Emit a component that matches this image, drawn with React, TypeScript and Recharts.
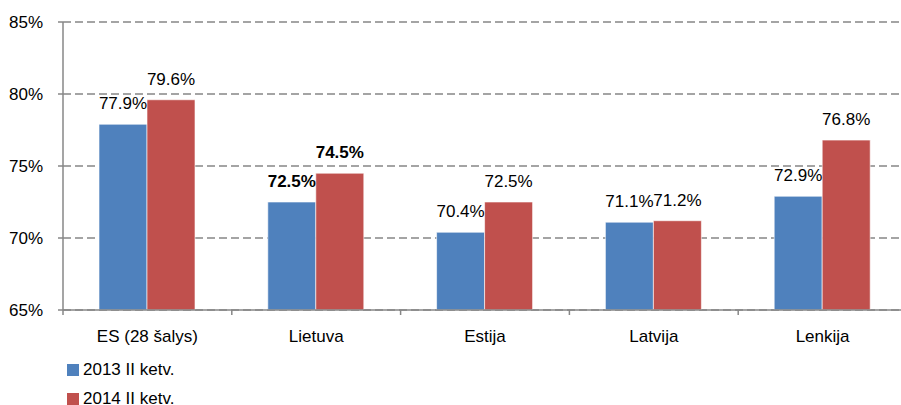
import React from "react";
import { BarChart, Bar, XAxis, YAxis, CartesianGrid, LabelList, Legend } from "recharts";

const categories = ["ES (28 šalys)", "Lietuva", "Estija", "Latvija", "Lenkija"];
const series2013 = [77.9, 72.5, 70.4, 71.1, 72.9];
const series2014 = [79.6, 74.5, 72.5, 71.2, 76.8];
const seriesNames = ["2013 II ketv.", "2014 II ketv."];
const seriesColors = ["#4F81BD", "#C0504D"];
const yTicks = [65, 70, 75, 80, 85];
const boldCategory = "Lietuva";

const data = categories.map((c, i) => ({ name: c, a: series2013[i], b: series2014[i] }));

const FONT = "'Liberation Sans', Arial, sans-serif";
const GRAY = "#878787";
const TICK_SIZE = 5;
const TICK_MARGIN = 13;

const XTick = (props: any) => {
  const { x, y, payload, width, visibleTicksCount, index } = props;
  const half = width / visibleTicksCount / 2;
  const axisY = y - TICK_SIZE - TICK_MARGIN;
  return (
    <g>
      <line x1={x - half} x2={x - half} y1={axisY} y2={axisY + TICK_SIZE} stroke={GRAY} strokeWidth={1.5} />
      {index === visibleTicksCount - 1 && (
        <line x1={x + half} x2={x + half} y1={axisY} y2={axisY + TICK_SIZE} stroke={GRAY} strokeWidth={1.5} />
      )}
      <text x={x} y={y + 14} textAnchor="middle" fontFamily={FONT} fontSize={17} fill="#000">
        {payload.value}
      </text>
    </g>
  );
};

const makeLabel = () => (props: any) => {
  const { x, y, width, value, index } = props;
  const bold = categories[index] === boldCategory;
  return (
    <text
      x={x + width / 2}
      y={y - 15}
      textAnchor="middle"
      fontFamily={FONT}
      fontSize={17}
      fontWeight={bold ? "bold" : "normal"}
      fill="#000"
    >
      {Number(value).toFixed(1)}%
    </text>
  );
};

const LegendContent = () => (
  <div style={{ fontFamily: FONT, fontSize: 17, color: "#000" }}>
    {seriesNames.map((n, i) => (
      <div key={n} style={{ display: "flex", alignItems: "center", height: 29 }}>
        <span style={{ display: "inline-block", width: 12, height: 12, background: seriesColors[i], marginRight: 4 }} />
        <span>{n}</span>
      </div>
    ))}
  </div>
);

export default function App() {
  return (
    <div style={{ position: "absolute", left: 0, top: 0, width: 901, height: 405, overflow: "hidden", background: "#fff" }}>
      <BarChart
        width={910}
        height={405}
        data={data}
        margin={{ top: 22, right: 3, left: 0, bottom: 65 }}
        barGap={0}
        barSize={48}
      >
        <CartesianGrid vertical={false} stroke={GRAY} strokeDasharray="8 4" strokeWidth={1.5} />
        <XAxis
          dataKey="name"
          height={30}
          tickLine={false}
          tickSize={TICK_SIZE}
          tickMargin={TICK_MARGIN}
          axisLine={{ stroke: GRAY, strokeWidth: 1.5 }}
          tick={<XTick />}
          interval={0}
        />
        <YAxis
          width={63}
          domain={[65, 85]}
          ticks={yTicks}
          tickFormatter={(v: number) => `${v}%`}
          tickSize={TICK_SIZE}
          tickMargin={15}
          axisLine={{ stroke: GRAY, strokeWidth: 1.5 }}
          tickLine={{ stroke: GRAY, strokeWidth: 1.5 }}
          tick={{ fontFamily: FONT, fontSize: 17, fill: "#000" }}
          allowDataOverflow
        />
        <Legend
          layout="vertical"
          align="center"
          verticalAlign="middle"
          content={<LegendContent />}
          wrapperStyle={{ left: 67, top: 355, width: 200, height: 58 }}
        />
        <Bar dataKey="a" name={seriesNames[0]} fill={seriesColors[0]} stroke="#ffffff" strokeOpacity={0.6} strokeWidth={1} isAnimationActive={false}>
          <LabelList dataKey="a" content={makeLabel()} />
        </Bar>
        <Bar dataKey="b" name={seriesNames[1]} fill={seriesColors[1]} stroke="#ffffff" strokeOpacity={0.6} strokeWidth={1} isAnimationActive={false}>
          <LabelList dataKey="b" content={makeLabel()} />
        </Bar>
      </BarChart>
    </div>
  );
}
